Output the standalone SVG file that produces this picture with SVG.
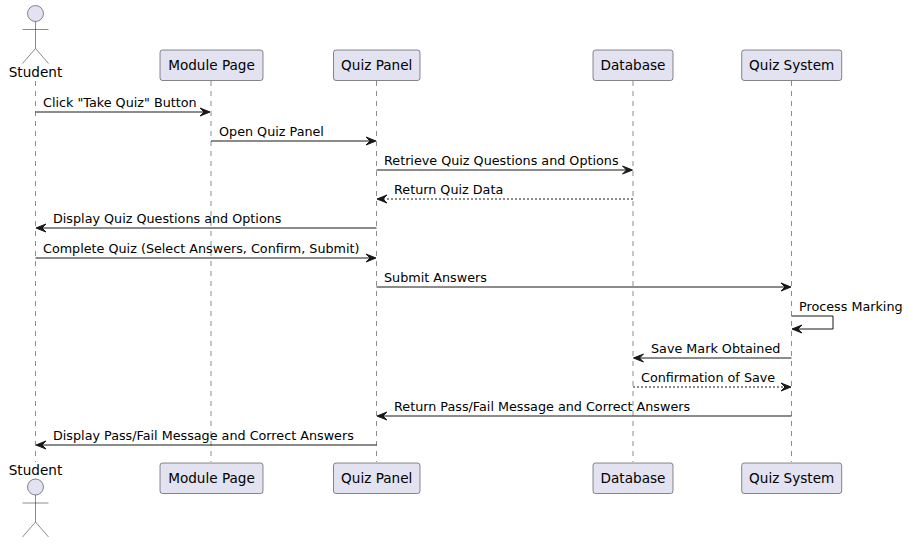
<svg xmlns="http://www.w3.org/2000/svg" width="908" height="543" viewBox="0 0 908 543">
<style>
.life{stroke:#181818;stroke-width:0.5;stroke-dasharray:5,5;fill:none}
.box{fill:#E2E2F0;stroke:#181818;stroke-width:0.5}
.pn{font-family:"DejaVu Sans","Liberation Sans",sans-serif;font-size:13.6px;fill:#000;text-anchor:middle}
.ml{font-family:"DejaVu Sans","Liberation Sans",sans-serif;font-size:12.75px;fill:#000}
.msg{stroke:#181818;stroke-width:1;fill:none}
.dash{stroke-dasharray:2,2}
.head{fill:#181818;stroke:#181818;stroke-width:1}
.act{fill:#E2E2F0;stroke:#181818;stroke-width:0.5}
.actl{stroke:#181818;stroke-width:0.5;fill:none}
</style>
<rect width="908" height="543" fill="#FFFFFF"/>
<g id="lifelines">
<line class="life" x1="35.5" y1="81" x2="35.5" y2="462"/>
<line class="life" x1="211" y1="81" x2="211" y2="462"/>
<line class="life" x1="376.5" y1="81" x2="376.5" y2="462"/>
<line class="life" x1="633" y1="81" x2="633" y2="462"/>
<line class="life" x1="791.5" y1="81" x2="791.5" y2="462"/>
</g>
<g id="student">
<circle class="act" cx="35.5" cy="13.5" r="8"/>
<path class="actl" d="M35.5,21.5 V48.5 M22.5,29.5 H48.5 M22.5,63.5 L35.5,48.5 L48.5,63.5"/>
<text class="pn" x="35.5" y="77">Student</text>
<text class="pn" x="35.5" y="475">Student</text>
<circle class="act" cx="35.5" cy="487" r="8"/>
<path class="actl" d="M35.5,495 V522 M22.5,503 H48.5 M22.5,537 L35.5,522 L48.5,537"/>
</g>
<g id="module-page">
<rect class="box" x="160" y="50" width="103" height="30.5" rx="2.5"/>
<text class="pn" x="211.5" y="70">Module Page</text>
<rect class="box" x="160" y="463" width="103" height="30.5" rx="2.5"/>
<text class="pn" x="211.5" y="483">Module Page</text>
</g>
<g id="quiz-panel">
<rect class="box" x="333.5" y="50" width="86.5" height="30.5" rx="2.5"/>
<text class="pn" x="376.7" y="70">Quiz Panel</text>
<rect class="box" x="333.5" y="463" width="86.5" height="30.5" rx="2.5"/>
<text class="pn" x="376.7" y="483">Quiz Panel</text>
</g>
<g id="database">
<rect class="box" x="593" y="50" width="80" height="30.5" rx="2.5"/>
<text class="pn" x="633" y="70">Database</text>
<rect class="box" x="593" y="463" width="80" height="30.5" rx="2.5"/>
<text class="pn" x="633" y="483">Database</text>
</g>
<g id="quiz-system">
<rect class="box" x="741.7" y="50" width="100" height="30.5" rx="2.5"/>
<text class="pn" x="791.7" y="70">Quiz System</text>
<rect class="box" x="741.7" y="463" width="100" height="30.5" rx="2.5"/>
<text class="pn" x="791.7" y="483">Quiz System</text>
</g>
<g id="connectors">
<line class="msg" x1="35.5" y1="112" x2="209.5" y2="112"/>
<polygon class="head" points="200,108 210,112 200,116 204,112"/>
<text class="ml" x="43" y="107">Click "Take Quiz" Button</text>

<line class="msg" x1="211" y1="141" x2="375" y2="141"/>
<polygon class="head" points="366,137 376,141 366,145 370,141"/>
<text class="ml" x="219" y="136">Open Quiz Panel</text>

<line class="msg" x1="376.5" y1="170" x2="631.5" y2="170"/>
<polygon class="head" points="622.5,166 632.5,170 622.5,174 626.5,170"/>
<text class="ml" x="384" y="165">Retrieve Quiz Questions and Options</text>

<line class="msg dash" x1="633" y1="199" x2="378" y2="199"/>
<polygon class="head" points="387,195 377,199 387,203 383,199"/>
<text class="ml" x="394" y="194">Return Quiz Data</text>

<line class="msg" x1="376.5" y1="228" x2="37" y2="228"/>
<polygon class="head" points="46,224 36,228 46,232 42,228"/>
<text class="ml" x="53" y="223">Display Quiz Questions and Options</text>

<line class="msg" x1="35.5" y1="258" x2="375" y2="258"/>
<polygon class="head" points="366,254 376,258 366,262 370,258"/>
<text class="ml" x="43" y="253">Complete Quiz (Select Answers, Confirm, Submit)</text>

<line class="msg" x1="376.5" y1="287" x2="790" y2="287"/>
<polygon class="head" points="781,283 791,287 781,291 785,287"/>
<text class="ml" x="384" y="282">Submit Answers</text>

<path class="msg" d="M791.5,316 H833 V329 H793"/>
<polygon class="head" points="802,325 792,329 802,333 798,329"/>
<text class="ml" x="799" y="311">Process Marking</text>

<line class="msg" x1="791.5" y1="358" x2="634.5" y2="358"/>
<polygon class="head" points="643.5,354 633.5,358 643.5,362 639.5,358"/>
<text class="ml" x="651" y="353">Save Mark Obtained</text>

<line class="msg dash" x1="633" y1="387" x2="790" y2="387"/>
<polygon class="head" points="781,383 791,387 781,391 785,387"/>
<text class="ml" x="641" y="382">Confirmation of Save</text>

<line class="msg" x1="791.5" y1="416" x2="378" y2="416"/>
<polygon class="head" points="387,412 377,416 387,420 383,416"/>
<text class="ml" x="394" y="411">Return Pass/Fail Message and Correct Answers</text>

<line class="msg" x1="376.5" y1="445" x2="37" y2="445"/>
<polygon class="head" points="46,441 36,445 46,449 42,445"/>
<text class="ml" x="53" y="440">Display Pass/Fail Message and Correct Answers</text>
</g>
</svg>
